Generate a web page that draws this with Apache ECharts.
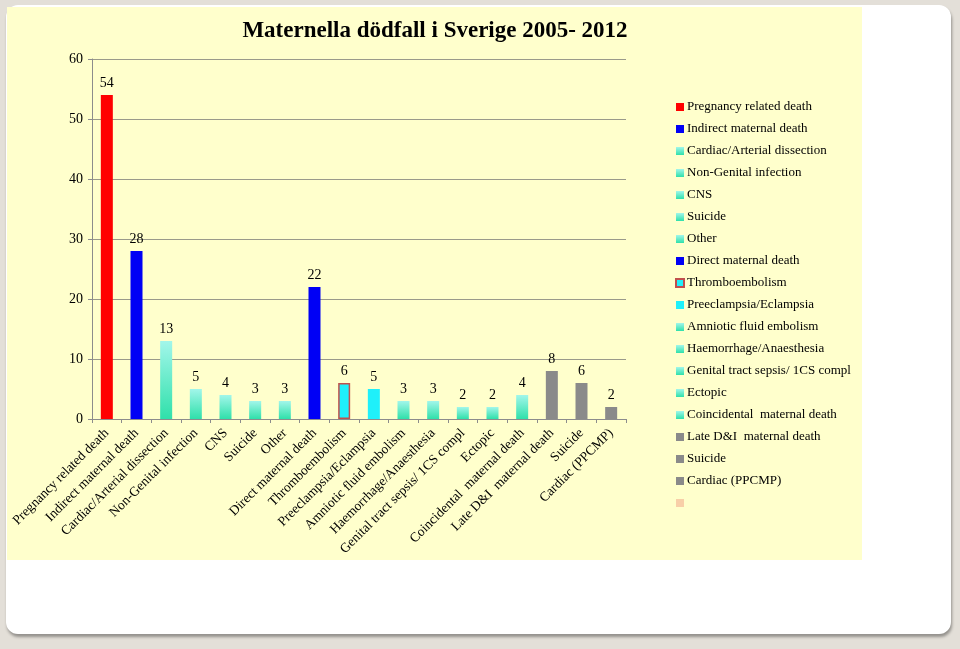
<!DOCTYPE html>
<html><head><meta charset="utf-8">
<script src="https://cdn.jsdelivr.net/npm/echarts@6/dist/echarts.min.js"></script>
<style>
html,body{margin:0;padding:0;width:960px;height:649px;background:#e3dfd8;overflow:hidden;}
#card{position:absolute;left:6px;top:5px;width:945px;height:629px;background:#fff;border-radius:12px;box-shadow:1px 3px 3px rgba(0,0,0,0.35);}
#chart{position:absolute;left:7px;top:7px;width:855px;height:553px;background:#ffffcc;}
</style></head>
<body>
<div id="card"></div>
<div id="chart"></div>
<script>
const titleText = 'Maternella dödfall i Sverige 2005- 2012';
const categories = ['Pregnancy related death','Indirect maternal death','Cardiac/Arterial dissection','Non-Genital infection','CNS','Suicide','Other','Direct maternal death','Thromboembolism','Preeclampsia/Eclampsia','Amniotic fluid embolism','Haemorrhage/Anaesthesia','Genital tract sepsis/ 1CS compl','Ectopic','Coincidental  maternal death','Late D&I  maternal death','Suicide','Cardiac (PPCMP)'];
const values = [54,28,13,5,4,3,3,22,6,5,3,3,2,2,4,8,6,2];
const groups = ['red','blue','teal','teal','teal','teal','teal','blue','thrombo','cyan','teal','teal','teal','teal','teal','grey','grey','grey'];
const yTicks = [0,10,20,30,40,50,60];

const teal = new echarts.graphic.LinearGradient(0,0,0,1,[{offset:0,color:'#a2f6ea'},{offset:1,color:'#2fe0aa'}]);
const styles = {
  red:{color:'#ff0000'},
  blue:{color:'#0000f5'},
  teal:{color:teal},
  thrombo:{color:'#1ff0fa',borderColor:'#c0504d',borderWidth:1.5},
  cyan:{color:'#1ff0fa'},
  grey:{color:'#8a8a8a'},
  blank:{color:'#f8cfa8'}
};
const seen = {};
const names = categories.map(c=>{ let n=c; while(seen[n]) n+='\u200B'; seen[n]=1; return n; });
const series = categories.map((c,i)=>({
  name:names[i], type:'bar', stack:'all', barWidth:12,
  data:values.map((v,j)=>j===i?v:'-'),
  itemStyle:styles[groups[i]],
  label:{show:true,position:'top',distance:5,color:'#000',fontFamily:'Liberation Serif',fontSize:14}
}));
series.push({name:' ',type:'bar',stack:'all',barWidth:12,data:values.map(()=>'-'),itemStyle:styles.blank});

const chart = echarts.init(document.getElementById('chart'));
chart.setOption({
  animation:false,
  title:{text:titleText,left:423,top:8,textAlign:'center',textStyle:{fontFamily:'Liberation Serif',fontWeight:'bold',fontSize:23,color:'#000'}},
  grid:{left:85,top:52,width:534,height:360},
  legend:{orient:'vertical',left:663,top:88,itemWidth:8,itemHeight:8,itemGap:8,icon:'rect',
    textStyle:{fontFamily:'Liberation Serif',fontSize:13,color:'#000',lineHeight:14,padding:[0,0,0,-2]},
    data:series.map(s=>s.name)},
  xAxis:{type:'category',data:categories,
    axisLine:{lineStyle:{color:'#8c8c8c'}},
    axisTick:{show:true,alignWithLabel:false,length:4,lineStyle:{color:'#8c8c8c'}},
    axisLabel:{rotate:45,interval:0,margin:12,color:'#000',fontFamily:'Liberation Serif',fontSize:13.5}},
  yAxis:{type:'value',min:0,max:60,interval:10,
    axisLine:{show:true,lineStyle:{color:'#8c8c8c'}},
    axisTick:{show:true,length:4,lineStyle:{color:'#8c8c8c'}},
    splitLine:{lineStyle:{color:'#9a9a8a',width:1}},
    axisLabel:{margin:9,color:'#000',fontFamily:'Liberation Serif',fontSize:14,
      formatter:v=>yTicks.includes(v)?String(v):''}},
  series:series
});
</script>
</body></html>
